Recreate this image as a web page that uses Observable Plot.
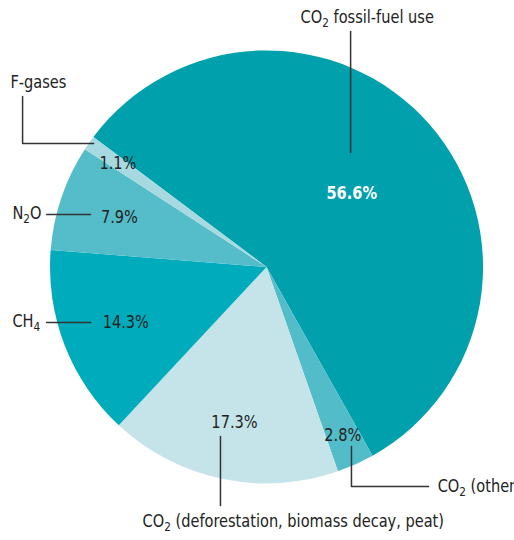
<!DOCTYPE html>
<html><head><meta charset="utf-8">
<script src="https://cdn.jsdelivr.net/npm/d3@7"></script>
<script src="https://cdn.jsdelivr.net/npm/@observablehq/plot@0.6"></script>
<style>
html,body{margin:0;padding:0;background:#fff;overflow:hidden;}
#chart svg{display:block;}
</style></head><body><div id="chart"></div>
<script>
// ---- data ----
const categories = ["CO₂ fossil-fuel use", "CO₂ (other)", "CO₂ (deforestation, biomass decay, peat)", "CH₄", "N₂O", "F-gases"];
const shares = [56.6, 2.8, 17.3, 14.3, 7.9, 1.1];
const valueLabels = ["56.6%", "2.8%", "17.3%", "14.3%", "7.9%", "1.1%"];
const colors = ["#00a0ad", "#52bcc8", "#c5e4e9", "#00acbc", "#55bdca", "#a6d9e0"];

// ---- layout (unit-circle coordinates, pie radius = 1) ----
const startDeg = -53.1;
const valueRadius = [0.52, 0.85, 0.73, 0.70, 0.72, 0.84];
const nameX = [0.155, 0.788, -0.575, -1.176, -1.176, -1.185];
const nameY = [1.155, -1.012, -1.173, -0.249, 0.249, 0.855];
const leaders = [
  [[0.386, 1.090], [0.386, 0.531]],
  [[0.390, -0.827], [0.390, -1.012], [0.746, -1.012]],
  [[-0.215, -0.781], [-0.215, -1.099]],
  [[-1.018, -0.254], [-0.815, -0.254]],
  [[-1.018, 0.245], [-0.815, 0.245]],
  [[-1.129, 0.790], [-1.129, 0.573], [-0.801, 0.573]]
];

const FONT = "'Liberation Sans Narrow', 'DejaVu Sans Condensed', 'Roboto', sans-serif";
const FS = 18;
const start = startDeg * Math.PI / 180;
const arcs = d3.pie().sort(null).value(d => d).startAngle(start).endAngle(start + 2 * Math.PI)(shares);
const colorScale = Plot.scale({color: {type: "ordinal", domain: categories, range: colors}});

const valueData = arcs.map((a, i) => {
  const m = (a.startAngle + a.endAngle) / 2;
  return {label: valueLabels[i], u: valueRadius[i] * Math.sin(m), v: valueRadius[i] * Math.cos(m), main: i === 0};
});
const nameData = categories.map((c, i) => ({label: c, u: nameX[i], v: nameY[i]}));
const leaderData = leaders.flatMap((pts, i) => pts.map(([u, v]) => ({id: i, u, v})));

function pieMark(index, scales) {
  const cx = scales.x(0), cy = scales.y(0), R = scales.x(1) - scales.x(0);
  const arc = d3.arc().innerRadius(0).outerRadius(R);
  const g = d3.create("svg:g").attr("transform", `translate(${cx},${cy})`);
  g.selectAll("path").data(arcs).join("path")
    .attr("d", arc)
    .attr("fill", (d, i) => colorScale.apply(categories[i]));
  return g.node();
}

const chart = Plot.plot({
  width: 514,
  height: 540,
  margin: 0,
  x: {domain: [-1.231, 1.143], axis: null},
  y: {domain: [-1.261, 1.233], axis: null},
  style: {fontFamily: FONT, background: "#fff"},
  marks: [
    pieMark,
    Plot.line(leaderData, {x: "u", y: "v", z: "id", stroke: "#333", strokeWidth: 1.5}),
    Plot.text(valueData.filter(d => !d.main), {x: "u", y: "v", text: "label", fontSize: FS, fill: "#222"}),
    Plot.text(valueData.filter(d => d.main), {x: "u", y: "v", text: "label", fontSize: FS, fontWeight: "bold", fill: "#fff"}),
    Plot.text(nameData, {x: "u", y: "v", text: "label", textAnchor: "start", fontSize: FS, fill: "#222"})
  ]
});

// condense glyphs horizontally and render chemical subscripts as real subscript text
d3.select(chart).selectAll("text").each(function () {
  const tr = this.getAttribute("transform");
  if (tr) this.setAttribute("transform", tr + " scale(0.9,1)");
  const t = this.textContent;
  if (!/[₂₄]/.test(t)) return;
  const sel = d3.select(this);
  sel.text(null);
  const parts = t.split(/([₂₄])/).filter(p => p !== "");
  let shifted = false;
  parts.forEach(p => {
    if (p === "₂" || p === "₄") {
      sel.append("tspan").attr("font-size", "13px").attr("dy", "4").text(p === "₂" ? "2" : "4");
      shifted = true;
    } else {
      const ts = sel.append("tspan").text(p);
      if (shifted) { ts.attr("dy", "-4"); shifted = false; }
    }
  });
});

document.getElementById("chart").appendChild(chart);
</script>
</body></html>
